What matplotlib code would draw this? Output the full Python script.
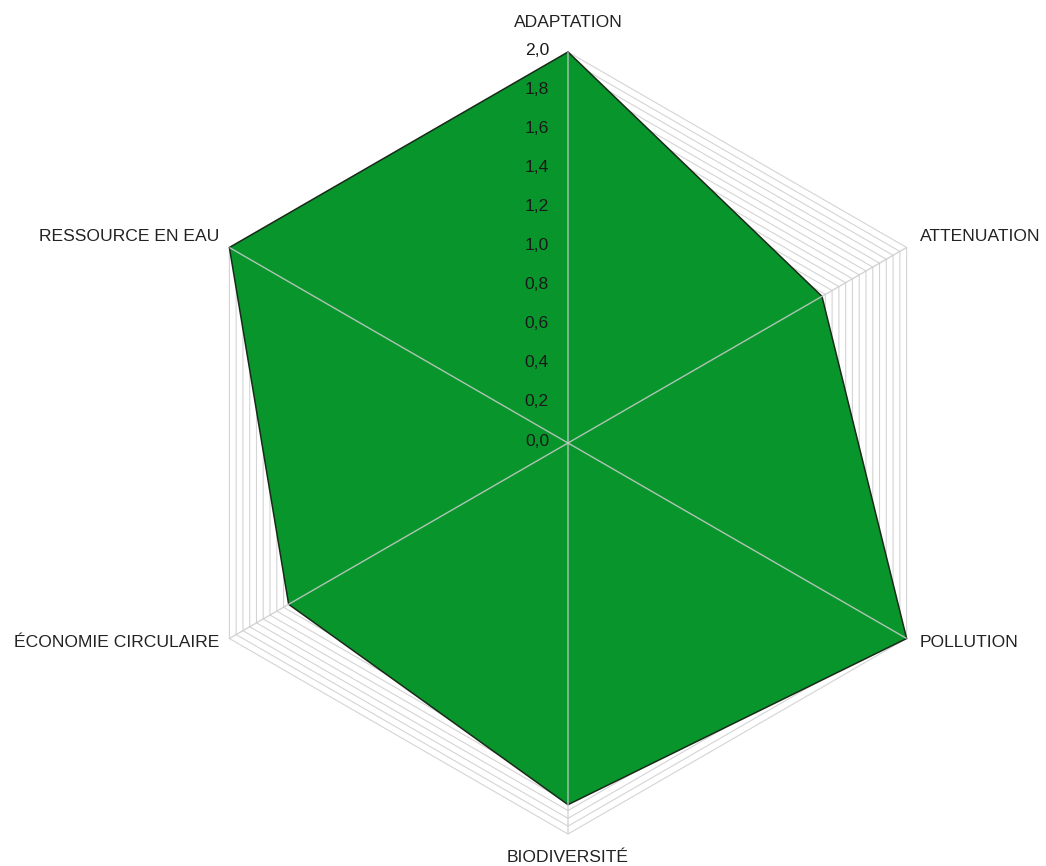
import numpy as np
import matplotlib
matplotlib.use("Agg")
import matplotlib.pyplot as plt
from matplotlib.patches import Polygon

plt.rcParams["path.simplify"] = False

categories = ["ADAPTATION", "ATTENUATION", "POLLUTION", "BIODIVERSITÉ",
              "ÉCONOMIE CIRCULAIRE", "RESSOURCE EN EAU"]
values = [2.0, 1.5, 2.0, 1.85, 1.65, 2.0]
tick_values = [0.0, 0.2, 0.4, 0.6, 0.8, 1.0, 1.2, 1.4, 1.6, 1.8, 2.0]
r_max = 2.0
ring_step = 0.04

W, H = 1046, 866
cx, cy = 568, 443
scale = 391 / r_max  # px per unit

fig = plt.figure(figsize=(W / 100, H / 100), dpi=100)
ax = fig.add_axes([0, 0, 1, 1])
ax.set_xlim(-cx / scale, (W - cx) / scale)
ax.set_ylim(-(H - cy) / scale, cy / scale)
ax.axis("off")

n = len(categories)
angles = np.deg2rad(90 - 360 / n * np.arange(n))
ca, sa = np.round(np.cos(angles), 12), np.round(np.sin(angles), 12)

rings = np.arange(ring_step, r_max + 1e-9, ring_step)
for r in rings:
    ring = Polygon(np.column_stack([r * ca, r * sa]), closed=True,
                   facecolor="none", edgecolor="#d4d4d4", lw=0.8, zorder=1)
    ax.add_patch(ring)

v = np.array(values)
poly = Polygon(np.column_stack([v * ca, v * sa]), closed=True,
               facecolor="#08962C", edgecolor="#1a2a1a", lw=1.1,
               joinstyle="miter", zorder=2)
ax.add_patch(poly)

for c, s in zip(ca, sa):
    ax.plot([0, r_max * c], [0, r_max * s], color="#cccccc", lw=1.0,
            alpha=0.85, zorder=4, solid_capstyle="butt", snap=False)

font = ["Liberation Sans", "DejaVu Sans"]
fs = 12.6
label_specs = [
    (0.0, 0.153, "center", "center"),
    (0.067, 0.056, "left", "center"),
    (0.067, -0.023, "left", "center"),
    (0.0, -0.118, "center", "center"),
    (-0.05, -0.023, "right", "center"),
    (-0.05, 0.056, "right", "center"),
]
for cat, c, s, (dx, dy, ha, va) in zip(categories, ca, sa, label_specs):
    ax.text(r_max * c + dx, r_max * s + dy, cat, ha=ha, va=va,
            fontsize=fs, family=font, color="#222222", zorder=5)

for t in tick_values:
    ax.text(-0.097, t + 0.01, f"{t:.1f}".replace(".", ","), ha="right", va="center",
            fontsize=fs, family=font, color="#1a1a1a", zorder=5)

fig.savefig("out.png", dpi=100)
